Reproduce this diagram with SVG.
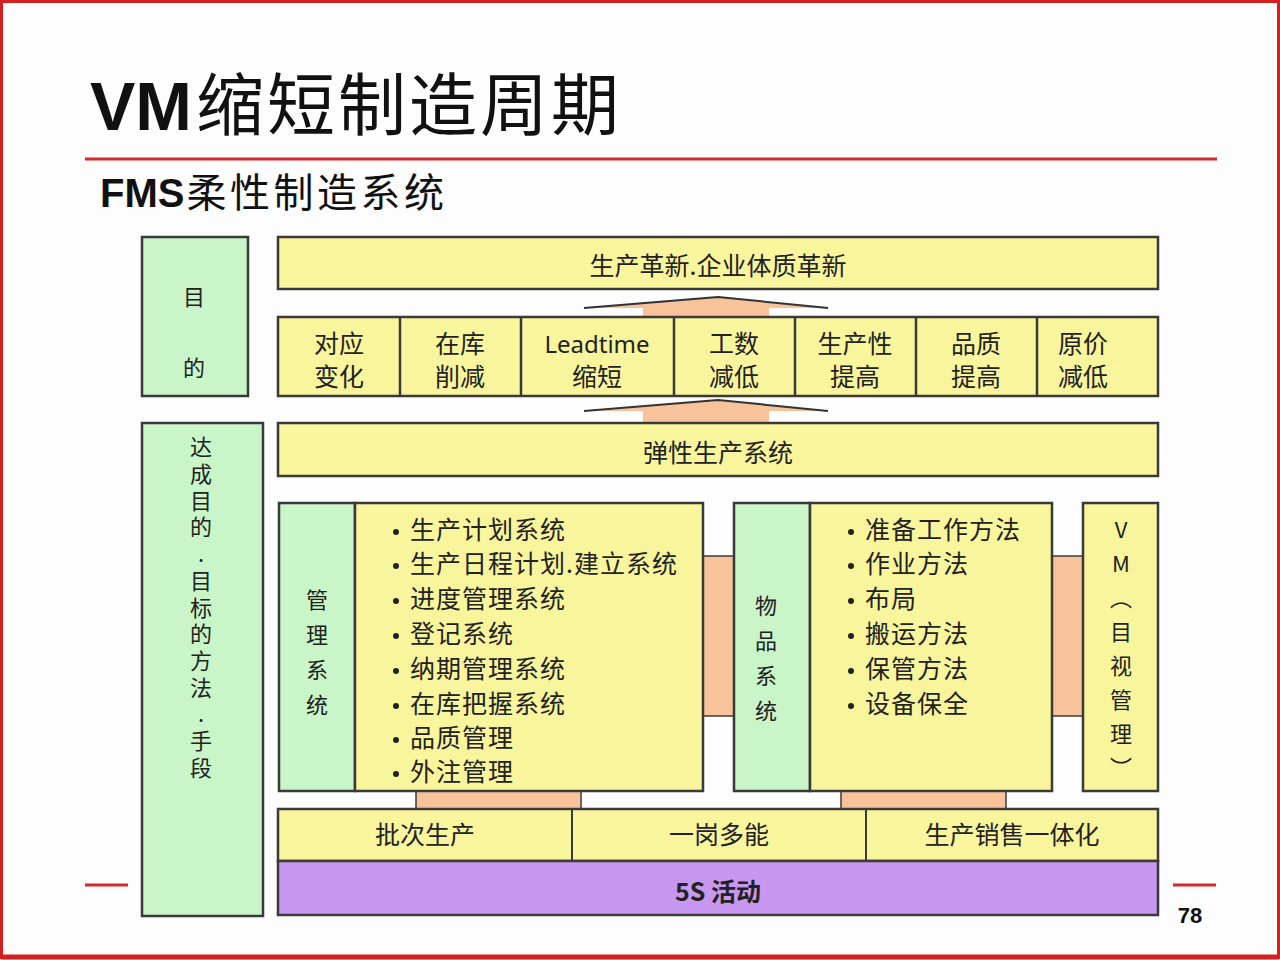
<svg xmlns="http://www.w3.org/2000/svg" width="1280" height="960" viewBox="0 0 1280 960">
<style>
.y{fill:#f9f59c;stroke:#3a3a3a;stroke-width:2.5}
.g{fill:#c9f5c9;stroke:#3a3a3a;stroke-width:2.5}
.p{fill:#f8c39b;stroke:#3a3a3a;stroke-width:1.5}
.pu{fill:#c898f0;stroke:#3a3a3a;stroke-width:2.5}
.t{font-family:"Noto Sans CJK SC","Noto Sans",sans-serif;font-size:25px;fill:#222;text-anchor:middle}
.l{font-family:"Noto Sans CJK SC","Noto Sans",sans-serif;font-size:25px;fill:#222;letter-spacing:1px}
.v{font-family:"Noto Sans CJK SC","Noto Sans",sans-serif;font-size:22px;fill:#222;text-anchor:middle}
.vt{font-family:"Noto Sans CJK SC","Noto Sans",sans-serif;font-size:22px;fill:#222;writing-mode:vertical-rl;text-orientation:upright}
.red{stroke:#d42a2a;stroke-width:3}
.b{fill:#222}
</style>
<rect x="0" y="0" width="1280" height="960" fill="#fdfdfd"/>
<rect x="1.5" y="1.5" width="1277" height="956" fill="none" stroke="#d42020" stroke-width="3"/>
<line x1="1" y1="957" x2="1279" y2="957" stroke="#d42020" stroke-width="5"/>

<g id="title">
<text x="90" y="130" font-family="Liberation Sans, sans-serif" font-weight="bold" font-size="68" fill="#111">VM<tspan dx="4" font-family="Noto Sans CJK SC, sans-serif" font-weight="normal" font-size="68" letter-spacing="3">缩短制造周期</tspan></text>
<line x1="85" y1="159" x2="1217" y2="159" class="red"/>
<text x="100" y="207" font-family="Liberation Sans, sans-serif" font-weight="bold" font-size="40" fill="#111">FMS<tspan dx="2" font-family="Noto Sans CJK SC, sans-serif" font-weight="normal" font-size="40" letter-spacing="3.5">柔性制造系统</tspan></text>
<line x1="85" y1="885" x2="128" y2="885" class="red"/>
<line x1="1173" y1="885" x2="1216" y2="885" class="red"/>
<text x="1190" y="923" font-family="Liberation Sans, sans-serif" font-weight="bold" font-size="22" fill="#111" text-anchor="middle">78</text>
</g>

<g id="connectors">
<path d="M584,308 L718,297 L828,308 L769,308 L769,317 L643,317 L643,308 Z" fill="#f8c39b"/>
<path d="M584,308 L718,297 L828,308" fill="none" stroke="#333" stroke-width="2"/>
<path d="M584,411 L718,400 L828,411 L769,411 L769,423 L643,423 L643,411 Z" fill="#f8c39b"/>
<path d="M584,411 L718,400 L828,411" fill="none" stroke="#333" stroke-width="2"/>
<rect x="703" y="556" width="31" height="160" class="p"/>
<rect x="1052" y="556" width="31" height="160" class="p"/>
<rect x="416" y="791" width="165" height="18" class="p"/>
<rect x="841" y="791" width="165" height="18" class="p"/>
</g>

<g id="goal">
<rect x="142" y="237" width="106" height="159" class="g"/>
<text x="194" y="305" class="v">目</text>
<text x="194" y="376" class="v">的</text>
</g>

<g id="means">
<rect x="142" y="423" width="121" height="493" class="g"/>
<text x="201" y="436" class="vt" letter-spacing="4.7">达成目的.目标的方法.手段</text>
</g>

<g id="top">
<rect x="278" y="237" width="880" height="52" class="y"/>
<text x="718" y="275" class="t">生产革新.企业体质革新</text>
</g>

<g id="results">
<rect x="278" y="317" width="880" height="79" class="y"/>
<g stroke="#3a3a3a" stroke-width="2.5">
<line x1="400" y1="317" x2="400" y2="396"/>
<line x1="521" y1="317" x2="521" y2="396"/>
<line x1="674" y1="317" x2="674" y2="396"/>
<line x1="795" y1="317" x2="795" y2="396"/>
<line x1="916" y1="317" x2="916" y2="396"/>
<line x1="1037" y1="317" x2="1037" y2="396"/>
</g>
<text class="t"><tspan x="339" y="353">对应</tspan><tspan x="339" y="386">变化</tspan></text>
<text class="t"><tspan x="460" y="353">在库</tspan><tspan x="460" y="386">削减</tspan></text>
<text class="t"><tspan x="597" y="353" font-family="Noto Sans, sans-serif" font-size="24">Leadtime</tspan><tspan x="597" y="386">缩短</tspan></text>
<text class="t"><tspan x="734" y="353">工数</tspan><tspan x="734" y="386">减低</tspan></text>
<text class="t"><tspan x="855" y="353">生产性</tspan><tspan x="855" y="386">提高</tspan></text>
<text class="t"><tspan x="976" y="353">品质</tspan><tspan x="976" y="386">提高</tspan></text>
<text class="t"><tspan x="1083" y="353">原价</tspan><tspan x="1083" y="386">减低</tspan></text>
</g>

<g id="flex">
<rect x="278" y="423" width="880" height="53" class="y"/>
<text x="718" y="462" class="t">弹性生产系统</text>
</g>

<g id="mgmt">
<rect x="279" y="503" width="76" height="288" class="g"/>
<rect x="355" y="503" width="348" height="288" class="y"/>
<text x="317" y="589" class="vt" letter-spacing="13">管理系统</text>
<g class="b">
<circle cx="396" cy="532" r="3"/><circle cx="396" cy="566" r="3"/><circle cx="396" cy="601" r="3"/><circle cx="396" cy="636" r="3"/>
<circle cx="396" cy="671" r="3"/><circle cx="396" cy="706" r="3"/><circle cx="396" cy="740" r="3"/><circle cx="396" cy="774" r="3"/>
</g>
<text class="l">
<tspan x="410" y="539">生产计划系统</tspan>
<tspan x="410" y="573">生产日程计划.建立系统</tspan>
<tspan x="410" y="608">进度管理系统</tspan>
<tspan x="410" y="643">登记系统</tspan>
<tspan x="410" y="678">纳期管理系统</tspan>
<tspan x="410" y="713">在库把握系统</tspan>
<tspan x="410" y="747">品质管理</tspan>
<tspan x="410" y="781">外注管理</tspan>
</text>
</g>

<g id="goods">
<rect x="734" y="503" width="76" height="288" class="g"/>
<rect x="810" y="503" width="242" height="288" class="y"/>
<text x="766" y="595" class="vt" letter-spacing="13">物品系统</text>
<g class="b">
<circle cx="851" cy="532" r="3"/><circle cx="851" cy="566" r="3"/><circle cx="851" cy="601" r="3"/>
<circle cx="851" cy="636" r="3"/><circle cx="851" cy="671" r="3"/><circle cx="851" cy="706" r="3"/>
</g>
<text class="l">
<tspan x="865" y="539">准备工作方法</tspan>
<tspan x="865" y="573">作业方法</tspan>
<tspan x="865" y="608">布局</tspan>
<tspan x="865" y="643">搬运方法</tspan>
<tspan x="865" y="678">保管方法</tspan>
<tspan x="865" y="713">设备保全</tspan>
</text>
</g>

<g id="vm">
<rect x="1083" y="503" width="75" height="288" class="y"/>
<text x="1121" y="519" class="vt" letter-spacing="12">VM（目视管理）</text>
</g>

<g id="base">
<rect x="278" y="809" width="880" height="52" class="y"/>
<line x1="572" y1="809" x2="572" y2="861" stroke="#3a3a3a" stroke-width="2"/>
<line x1="866" y1="809" x2="866" y2="861" stroke="#3a3a3a" stroke-width="2"/>
<text x="425" y="844" class="t">批次生产</text>
<text x="719" y="844" class="t">一岗多能</text>
<text x="1012" y="844" class="t">生产销售一体化</text>
</g>

<g id="fives">
<rect x="278" y="861" width="880" height="54" class="pu"/>
<text x="718" y="901" class="t" font-weight="bold">5S 活动</text>
</g>
</svg>
